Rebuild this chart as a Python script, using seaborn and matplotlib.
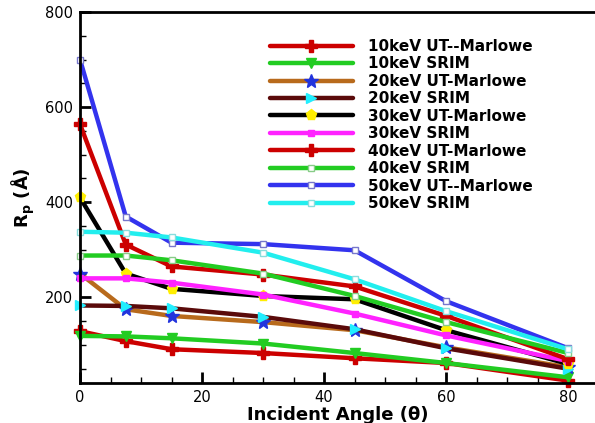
import matplotlib
matplotlib.use("Agg")
import matplotlib.pyplot as plt
import seaborn as sns
import pandas as pd
from matplotlib.ticker import MultipleLocator

sns.set_style("white")
plt.rcParams['font.family'] = ['DejaVu Sans']
for k in ['text.color', 'axes.labelcolor', 'xtick.color', 'ytick.color']:
    plt.rcParams[k] = 'black'

angles = [0, 7.5, 15, 30, 45, 60, 80]

labels = ["10keV UT--Marlowe", "10keV SRIM", "20keV UT-Marlowe", "20keV SRIM",
          "30keV UT-Marlowe", "30keV SRIM", "40keV UT-Marlowe", "40keV SRIM",
          "50keV UT--Marlowe", "50keV SRIM"]

ut10 = [129, 108, 91, 83, 72, 62, 25]
srim10 = [119, 118, 114, 103, 83, 62, 32]
ut20 = [250, 175, 161, 148, 131, 95, 53]
srim20 = [183, 182, 177, 159, 133, 93, 50]
ut30 = [410, 250, 218, 203, 196, 131, 60]
srim30 = [240, 240, 231, 206, 166, 120, 66]
ut40 = [564, 311, 265, 248, 223, 161, 70]
srim40 = [288, 288, 278, 250, 203, 148, 83]
ut50 = [700, 370, 315, 312, 299, 192, 93]
srim50 = [338, 336, 326, 294, 238, 171, 91]

series = [ut10, srim10, ut20, srim20, ut30, srim30, ut40, srim40, ut50, srim50]

line_colors = ["#cc0000", "#22cc22", "#b86a1c", "#5a0a0a", "#000000",
               "#ff22ff", "#cc0000", "#22cc22", "#3333ee", "#22eeee"]
marker_styles = ["P", "v", "*", ">", "p", "s", "P", "s", "s", "s"]
marker_face = ["#cc0000", "#22cc22", "#2233dd", "#22eeff", "#ffee00",
               "#ff22ff", "#cc0000", "#ffffff", "#ffffff", "#ffffff"]
marker_edge = ["#cc0000", "#22cc22", "#2233dd", "#22eeff", "#ffee00",
               "#ff22ff", "#cc0000", "#88cc88", "#7777cc", "#88dddd"]
marker_sizes = [8, 7, 10, 7, 8, 5, 8, 5, 5, 5]

fig = plt.figure(figsize=(5.95, 4.23), dpi=100)
ax = fig.add_axes([80/595, 40/423, 515/595, 371/423])

for lab, vals, c, m, mf, me, ms in zip(labels, series, line_colors, marker_styles,
                                        marker_face, marker_edge, marker_sizes):
    df = pd.DataFrame({"angle": angles, "rp": vals})
    sns.lineplot(data=df, x="angle", y="rp", ax=ax, color=c, linewidth=3.2,
                 marker=m, markersize=ms, markerfacecolor=mf, markeredgecolor=me,
                 markeredgewidth=1, label=lab, clip_on=False)

ax.set_xlim(0, 84.4)
ax.set_ylim(20, 800)
ax.xaxis.set_major_locator(MultipleLocator(20))
ax.xaxis.set_minor_locator(MultipleLocator(5))
ax.yaxis.set_major_locator(MultipleLocator(200))
ax.yaxis.set_minor_locator(MultipleLocator(50))
ax.tick_params(which='major', direction='in', length=8, width=2, labelsize=10.5,
               top=False, right=False, bottom=True, left=True, pad=5)
ax.tick_params(which='minor', direction='in', length=4, width=1,
               bottom=True, left=True)
for s in ['left', 'bottom', 'top']:
    ax.spines[s].set_linewidth(2)
    ax.spines[s].set_color('black')
ax.spines['right'].set_visible(False)

ax.set_xlabel("Incident Angle (θ)", fontsize=13, fontweight='bold', labelpad=1)
ax.set_ylabel(r"R$_\mathbf{p}$ (Å)", fontsize=13, fontweight='bold', labelpad=6)

leg = ax.legend(loc='upper left', bbox_to_anchor=(190/515, 1 - 27/371), frameon=False,
                handlelength=5.4, handletextpad=1.0, labelspacing=0.16,
                prop={'weight': 'bold', 'size': 11}, borderaxespad=0, borderpad=0)

fig.savefig("out.png", dpi=100)
